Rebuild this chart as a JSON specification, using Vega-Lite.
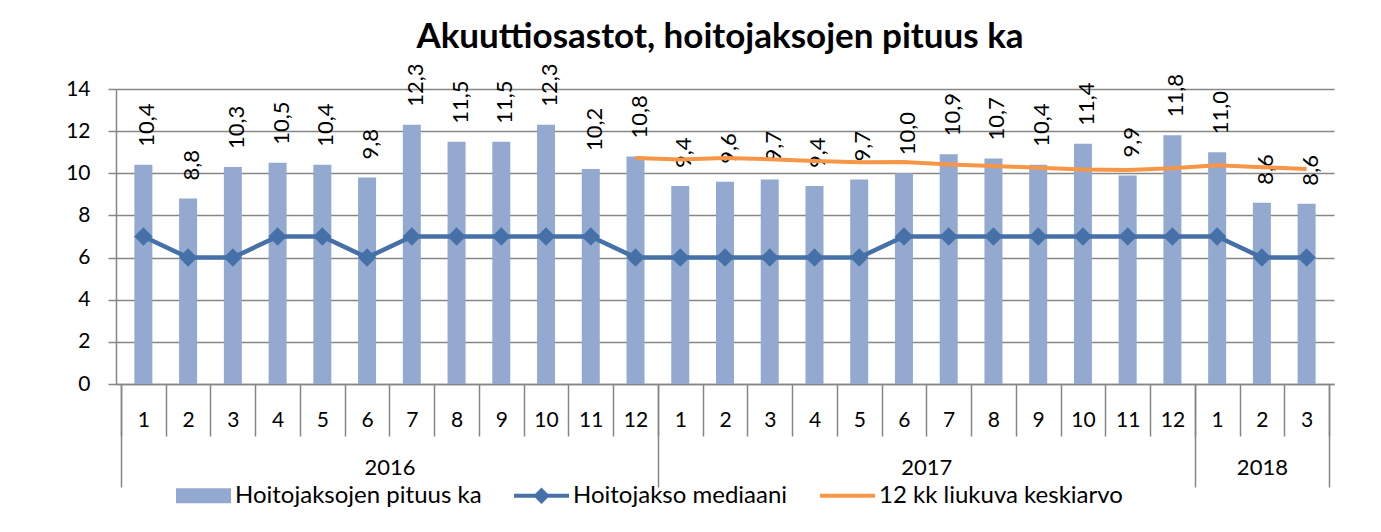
{
  "$schema": "https://vega.github.io/schema/vega-lite/v6.json",
  "width": 1218,
  "height": 295,
  "autosize": {"type": "none"},
  "padding": {"left": 116, "top": 89, "right": 47, "bottom": 148},
  "background": "white",
  "title": {"text": "Akuuttiosastot, hoitojaksojen pituus ka", "font": "Lato", "fontSize": 35, "fontWeight": "bold", "color": "black", "anchor": "middle", "offset": 9, "dx": -5},
  "data": {"values": [
    {"n": 1, "year": 2016, "month": 1, "ka": 10.4, "med": 7, "ma": null},
    {"n": 2, "year": 2016, "month": 2, "ka": 8.8, "med": 6, "ma": null},
    {"n": 3, "year": 2016, "month": 3, "ka": 10.3, "med": 6, "ma": null},
    {"n": 4, "year": 2016, "month": 4, "ka": 10.5, "med": 7, "ma": null},
    {"n": 5, "year": 2016, "month": 5, "ka": 10.4, "med": 7, "ma": null},
    {"n": 6, "year": 2016, "month": 6, "ka": 9.8, "med": 6, "ma": null},
    {"n": 7, "year": 2016, "month": 7, "ka": 12.3, "med": 7, "ma": null},
    {"n": 8, "year": 2016, "month": 8, "ka": 11.5, "med": 7, "ma": null},
    {"n": 9, "year": 2016, "month": 9, "ka": 11.5, "med": 7, "ma": null},
    {"n": 10, "year": 2016, "month": 10, "ka": 12.3, "med": 7, "ma": null},
    {"n": 11, "year": 2016, "month": 11, "ka": 10.2, "med": 7, "ma": null},
    {"n": 12, "year": 2016, "month": 12, "ka": 10.8, "med": 6, "ma": 10.73},
    {"n": 13, "year": 2017, "month": 1, "ka": 9.4, "med": 6, "ma": 10.65},
    {"n": 14, "year": 2017, "month": 2, "ka": 9.6, "med": 6, "ma": 10.72},
    {"n": 15, "year": 2017, "month": 3, "ka": 9.7, "med": 6, "ma": 10.67},
    {"n": 16, "year": 2017, "month": 4, "ka": 9.4, "med": 6, "ma": 10.58},
    {"n": 17, "year": 2017, "month": 5, "ka": 9.7, "med": 6, "ma": 10.52},
    {"n": 18, "year": 2017, "month": 6, "ka": 10.0, "med": 7, "ma": 10.53},
    {"n": 19, "year": 2017, "month": 7, "ka": 10.9, "med": 7, "ma": 10.42},
    {"n": 20, "year": 2017, "month": 8, "ka": 10.7, "med": 7, "ma": 10.35},
    {"n": 21, "year": 2017, "month": 9, "ka": 10.4, "med": 7, "ma": 10.26},
    {"n": 22, "year": 2017, "month": 10, "ka": 11.4, "med": 7, "ma": 10.18},
    {"n": 23, "year": 2017, "month": 11, "ka": 9.9, "med": 7, "ma": 10.16},
    {"n": 24, "year": 2017, "month": 12, "ka": 11.8, "med": 7, "ma": 10.24},
    {"n": 25, "year": 2018, "month": 1, "ka": 11.0, "med": 7, "ma": 10.38},
    {"n": 26, "year": 2018, "month": 2, "ka": 8.6, "med": 6, "ma": 10.29},
    {"n": 27, "year": 2018, "month": 3, "ka": 8.56, "med": 6, "ma": 10.2}
  ]},
  "resolve": {"axis": {"x": "independent", "y": "shared"}, "scale": {"x": "shared", "y": "shared", "color": "shared"}},
  "layer": [
    {
      "mark": {"type": "bar", "size": 18},
      "encoding": {
        "x": {"field": "n", "type": "quantitative", "scale": {"domain": [0.5, 27.5], "nice": false, "zero": false},
          "axis": {"orient": "bottom", "title": null, "values": [0.5,1.5,2.5,3.5,4.5,5.5,6.5,7.5,8.5,9.5,10.5,11.5,12.5,13.5,14.5,15.5,16.5,17.5,18.5,19.5,20.5,21.5,22.5,23.5,24.5,25.5,26.5,27.5], "labels": false, "ticks": true, "tickSize": 52, "domain": true, "grid": false}},
        "y": {"field": "ka", "type": "quantitative", "scale": {"domain": [0, 14], "nice": false},
          "axis": {"title": null, "values": [0,2,4,6,8,10,12,14], "grid": true, "tickSize": 8, "labelPadding": 18, "domain": true}},
        "color": {"datum": "Hoitojaksojen pituus ka", "type": "nominal",
          "scale": {"domain": ["Hoitojaksojen pituus ka", "Hoitojakso mediaani", "12 kk liukuva keskiarvo"], "range": ["#94A9D0", "#4571A8", "#F79646"]},
          "legend": {"orient": "none", "legendX": 60, "legendY": 379, "direction": "horizontal", "title": null, "symbolSize": 3025,
            "labelFont": "Lato", "labelFontSize": 24, "labelColor": "black", "labelOffset": 4, "labelLimit": 400, "columnPadding": 32,
            "encode": {"symbols": {"update": {
              "shape": {"signal": "datum.value === 'Hoitojaksojen pituus ka' ? 'M-1,-0.27H1V0.27H-1Z' : (datum.value === 'Hoitojakso mediaani' ? 'M-1,-0.075H1V0.075H-1Z M0,-0.3L0.3,0L0,0.3L-0.3,0Z' : 'M-1,-0.075H1V0.075H-1Z')"},
              "fill": {"signal": "scale('color', datum.value)"},
              "stroke": {"value": "transparent"},
              "strokeWidth": {"value": 0},
              "opacity": {"value": 1}
            }}}}}
      }
    },
    {
      "mark": {"type": "text", "angle": 270, "align": "left", "baseline": "middle", "dx": 18, "dy": 4, "font": "Lato", "fontSize": 22, "color": "black"},
      "encoding": {
        "x": {"field": "n", "type": "quantitative", "scale": {"domain": [0.5, 27.5], "nice": false, "zero": false},
          "axis": {"orient": "bottom", "title": null, "values": [1,2,3,4,5,6,7,8,9,10,11,12,13,14,15,16,17,18,19,20,21,22,23,24,25,26,27],
            "labelExpr": "datum.value <= 12 ? datum.value : (datum.value <= 24 ? datum.value - 12 : datum.value - 24)",
            "ticks": false, "domain": false, "grid": false, "labelPadding": 36, "labelBaseline": "middle", "labelFlush": false, "labelOverlap": false}},
        "y": {"field": "ka", "type": "quantitative", "scale": {"domain": [0, 14], "nice": false},
          "axis": {"title": null, "values": [0,2,4,6,8,10,12,14], "grid": true, "tickSize": 8, "labelPadding": 18, "domain": true}},
        "text": {"field": "ka", "type": "quantitative", "format": ".1f"}
      }
    },
    {
      "mark": {"type": "line", "strokeWidth": 4.5, "point": {"shape": "diamond", "size": 340, "filled": true}},
      "encoding": {
        "x": {"field": "n", "type": "quantitative", "scale": {"domain": [0.5, 27.5], "nice": false, "zero": false},
          "axis": {"orient": "bottom", "title": null, "values": [6.5, 18.5, 26],
            "labelExpr": "datum.value < 12 ? '2016' : (datum.value < 24 ? '2017' : '2018')",
            "ticks": false, "domain": false, "grid": false, "labelPadding": 83, "labelBaseline": "middle", "labelFontSize": 22, "labelFlush": false, "labelOverlap": false}},
        "y": {"field": "med", "type": "quantitative", "scale": {"domain": [0, 14], "nice": false},
          "axis": {"title": null, "values": [0,2,4,6,8,10,12,14], "grid": true, "tickSize": 8, "labelPadding": 18, "domain": true}},
        "color": {"datum": "Hoitojakso mediaani", "type": "nominal"}
      }
    },
    {
      "mark": {"type": "line", "strokeWidth": 4},
      "encoding": {
        "x": {"field": "n", "type": "quantitative", "scale": {"domain": [0.5, 27.5], "nice": false, "zero": false},
          "axis": {"orient": "bottom", "title": null, "values": [0.5, 12.5, 24.5, 27.5], "labels": false, "ticks": true, "tickSize": 103, "domain": false, "grid": false}},
        "y": {"field": "ma", "type": "quantitative", "scale": {"domain": [0, 14], "nice": false},
          "axis": {"title": null, "values": [0,2,4,6,8,10,12,14], "grid": true, "tickSize": 8, "labelPadding": 18, "domain": true}},
        "color": {"datum": "12 kk liukuva keskiarvo", "type": "nominal"}
      }
    }
  ],
  "config": {
    "locale": {"number": {"decimal": ",", "thousands": " ", "grouping": [3], "currency": ["", " €"]}},
    "view": {"stroke": null},
    "font": "Lato",
    "axis": {"labelFont": "Lato", "labelFontSize": 21, "labelColor": "black", "domainColor": "#868686", "tickColor": "#868686", "gridColor": "#868686", "domainWidth": 1.5, "tickWidth": 1.5, "gridWidth": 1.5}
  }
}
